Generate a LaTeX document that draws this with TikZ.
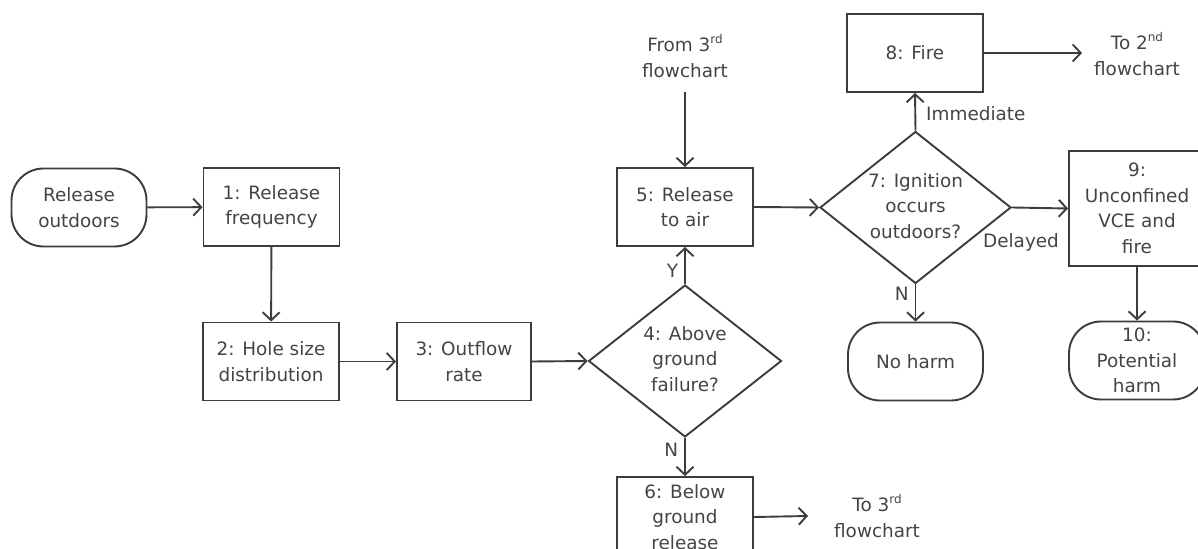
\documentclass[tikz,border=0pt]{standalone}
\usepackage{fontspec}
\setmainfont{DejaVu Sans}
\usetikzlibrary{shapes.geometric,arrows.meta}
\definecolor{ln}{HTML}{3C3C3C}
\definecolor{tx}{HTML}{444444}
\newcommand{\supx}[1]{\raisebox{0.45em}{\fontsize{6}{6}\selectfont #1}}
\begin{document}
\begin{tikzpicture}[x=0.5pt,y=-0.5pt,
  every node/.style={font=\fontsize{9.2}{12.75}\selectfont, text=tx, align=center, inner sep=0pt},
  procbox/.style={draw=ln, line width=0.95pt, rectangle, minimum width=68pt, minimum height=39pt},
  termbox/.style={draw=ln, line width=0.95pt, rectangle, rounded corners=16pt, minimum width=67.5pt, minimum height=39pt},
  decbox/.style={draw=ln, line width=0.95pt, diamond, minimum width=96.5pt, minimum height=76pt},
  conn/.style={draw=ln, line width=0.95pt, -{Straight Barb[length=4pt,width=8.5pt,line width=0.95pt]}},
  lbl/.style={text=tx}
]
\useasboundingbox (0,0) rectangle (1198,549);
\clip (0,0) rectangle (1198,549);

% nodes
\node[termbox] (start) at (79,207.5) {Release\\outdoors};
\node[procbox] (b1) at (271.5,207) {1: Release\\frequency};
\node[procbox] (b2) at (271,361.5) {2: Hole size\\distribution};
\node[procbox, minimum width=67pt] (b3) at (464,361.5) {3: Outflow\\rate};
\node[decbox] (d4) at (685,361) {};
\node at (685,359) {4: Above\\ground\\failure?};
\node[procbox] (b5) at (685,207) {5: Release\\to air};
\node (from3) at (685,56) {From 3\supx{rd}\\flowchart};
\coordinate (f3) at (685,92);
\node[procbox, minimum height=40pt] (b6) at (685,517) {6: Below\\ground\\release};
\node (to3) at (877,516) {To 3\supx{rd}\\flowchart};
\coordinate (t3) at (808,516);
\node[decbox, minimum width=95.5pt] (d7) at (915.5,207.5) {};
\node at (915.5,206) {7: Ignition\\occurs\\outdoors?};
\node[procbox] (b8) at (915,53) {8: Fire};
\node (to2) at (1137,54) {To 2\supx{nd}\\flowchart};
\coordinate (t2) at (1082,53);
\node[procbox, minimum height=57.5pt] (b9) at (1137,208.5) {9:\\Unconfined\\VCE and\\fire};
\node[termbox] (nh) at (915.5,361.5) {No harm};
\node[termbox, minimum width=68pt] (b10) at (1137,360.5) {10:\\Potential\\harm};

% connectors
\draw[conn] (start) -- (b1);
\draw[conn] (b1) -- (b2);
\draw[conn] (b2) -- (b3);
\draw[conn] (b3.east) -- (d4.west);
\draw[conn] (d4.north) -- node[lbl, left=3pt, pos=0.35] {Y} (b5.south);
\draw[conn] (d4.south) -- node[lbl, left=3pt, pos=0.3] {N} (b6.north);
\draw[conn] (f3) -- (b5.north);
\draw[conn] (b6.east) -- (t3);
\draw[conn] (b5.east) -- (d7.west);
\draw[conn] (d7.north) -- node[lbl, right=5pt, pos=0.45] {Immediate} (b8.south);
\draw[conn] (d7.east) -- (b9.west);
\node[lbl] at (1021,242) {Delayed};
\draw[conn] (d7.south) -- node[lbl, left=3pt, pos=0.25] {N} (nh.north);
\draw[conn] (b8.east) -- (t2);
\draw[conn] (b9.south) -- (b10.north);
\end{tikzpicture}
\end{document}
